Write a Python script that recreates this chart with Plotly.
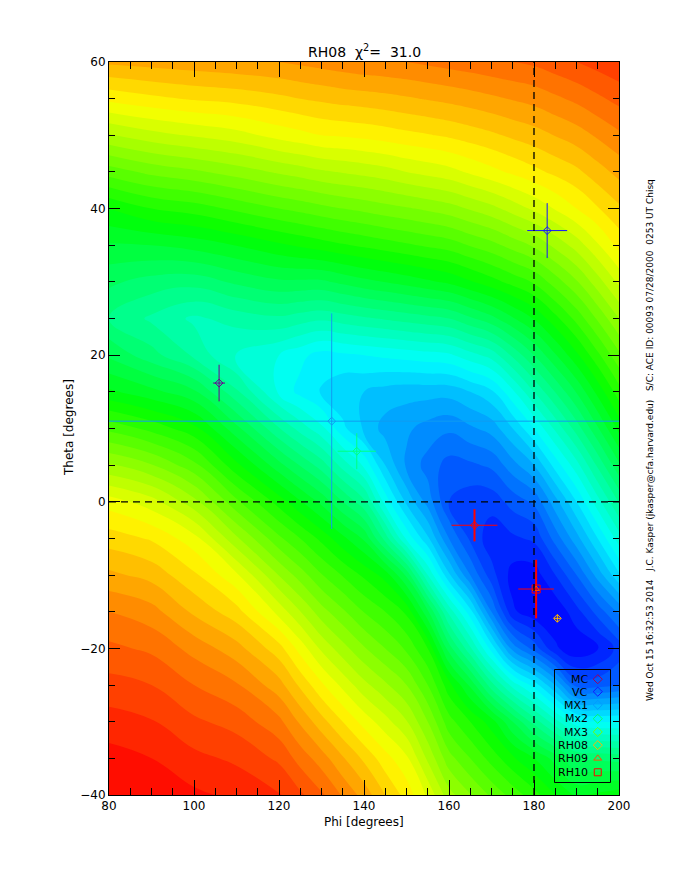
import plotly.graph_objects as go

phi_grid = [80, 90, 100, 110, 120, 125, 130, 135, 140, 145, 150, 155, 160, 165, 170, 175, 180, 185, 190, 195, 200]
theta_grid = [60, 55, 50, 45, 40, 35, 30, 25, 20, 15, 10, 5, 0, -5, -10, -15, -20, -25, -30, -35, -40]

# Colour-scale position read at each grid node (0 blue, .25 cyan, .5 green, .75 yellow, 1 red)
col_080 = [.83, .757, .672, .586, .50, .447, .405, .375, .42, .48, .568, .653, .738, .788, .831, .875, .906, .934, .961, .985, 1.0]
col_090 = [.835, .769, .69, .607, .525, .45, .39, .345, .385, .458, .542, .627, .711, .772, .816, .86, .895, .925, .952, .975, .993]
col_100 = [.84, .778, .703, .62, .537, .46, .385, .32, .345, .43, .508, .583, .659, .735, .78, .82, .866, .90, .93, .957, .98]
col_110 = [.845, .784, .715, .636, .556, .476, .405, .335, .295, .355, .433, .507, .581, .655, .73, .785, .835, .878, .915, .945, .97]
col_120 = [.85, .794, .734, .654, .575, .495, .42, .345, .275, .27, .352, .434, .514, .581, .649, .716, .785, .835, .882, .92, .953]
col_125 = [.855, .80, .742, .662, .583, .504, .42, .337, .257, .242, .315, .398, .478, .55, .613, .676, .74, .795, .846, .89, .93]
col_130 = [.86, .805, .75, .671, .592, .513, .42, .33, .24, .222, .282, .363, .443, .518, .577, .636, .695, .755, .81, .862, .905]
col_135 = [.865, .81, .753, .677, .60, .522, .431, .338, .245, .205, .232, .315, .40, .482, .548, .605, .66, .718, .775, .828, .872]
col_140 = [.87, .813, .757, .683, .607, .53, .442, .346, .25, .20, .195, .27, .357, .446, .52, .574, .628, .683, .74, .795, .84]
col_145 = [.872, .817, .762, .69, .615, .538, .451, .353, .255, .19, .165, .20, .265, .365, .49, .55, .60, .655, .71, .76, .80]
col_150 = [.875, .822, .768, .70, .622, .546, .46, .36, .26, .185, .155, .145, .195, .27, .42, .52, .57, .625, .677, .73, .765]
col_155 = [.88, .827, .773, .708, .63, .554, .47, .367, .265, .185, .14, .115, .14, .205, .30, .43, .525, .575, .625, .67, .72]
col_160 = [.885, .832, .779, .716, .639, .562, .48, .375, .27, .185, .13, .09, .075, .125, .205, .317, .413, .51, .56, .61, .66]
col_165 = [.89, .838, .787, .729, .653, .577, .497, .396, .29, .20, .145, .095, .06, .07, .125, .235, .33, .445, .525, .575, .627]
col_170 = [.895, .845, .795, .742, .667, .591, .515, .417, .31, .22, .16, .105, .06, .035, .06, .125, .24, .36, .487, .54, .595]
col_175 = [.90, .852, .805, .755, .686, .61, .534, .447, .355, .27, .20, .14, .085, .045, .015, .03, .14, .29, .425, .505, .565]
col_180 = [.905, .859, .814, .768, .705, .629, .553, .477, .40, .325, .25, .175, .105, .055, .012, .008, .09, .24, .365, .475, .535]
col_185 = [.915, .87, .826, .781, .727, .657, .587, .517, .447, .376, .305, .235, .165, .11, .05, .005, .03, .175, .31, .44, .50]
col_190 = [.925, .881, .838, .794, .75, .686, .622, .558, .494, .427, .361, .29, .225, .165, .10, .04, .005, .09, .26, .40, .47]
col_195 = [.935, .895, .854, .814, .773, .722, .664, .604, .544, .483, .422, .355, .29, .225, .16, .085, .02, .09, .25, .395, .48]
col_200 = [.945, .908, .87, .833, .795, .758, .706, .65, .594, .539, .483, .42, .352, .288, .22, .13, .06, .10, .25, .39, .49]
columns = [col_080, col_090, col_100, col_110, col_120, col_125, col_130, col_135, col_140, col_145, col_150,
           col_155, col_160, col_165, col_170, col_175, col_180, col_185, col_190, col_195, col_200]
z_rows = [list(r) for r in zip(*columns)]

# Fit points: phi, theta, half-widths
mc = dict(phi=105.9, theta=16.2, ephi=1.4, etheta=2.5)
vc = dict(phi=183.1, theta=37.0, ephi=4.7, etheta=3.75)
mx1 = dict(phi=132.4, theta=11.0, ephi=200.0, etheta=14.7)
mx2 = dict(phi=138.3, theta=6.9, ephi=4.5, etheta=2.45)
rh08 = dict(phi=185.5, theta=-15.9, ephi=0.8, etheta=0.5)
rh09 = dict(phi=166.0, theta=-3.2, ephi=5.4, etheta=2.2)
rh10 = dict(phi=180.5, theta=-11.9, ephi=4.2, etheta=4.0)

legend_names = ["MC", "VC", "MX1", "Mx2", "MX3", "RH08", "RH09", "RH10"]
legend_colors = ["#a0005a", "#1414ff", "#009cff", "#00ff6a", "#70ff00", "#ffb400", "#ff5000", "#ff0000"]
legend_symbols = ["diamond-open"] * 6 + ["triangle-up-open", "square-open"]
legend_phi = [195.0] * 8
legend_theta = [-24.2, -25.9, -27.7, -29.6, -31.4, -33.2, -35.0, -36.9]

title_html = "RH08  χ<sup>2</sup>=  31.0"
side_text = ("Wed Oct 15 16:32:53 2014   J.C. Kasper (jkasper@cfa.harvard.edu)   "
             "S/C: ACE ID: 00093 07/28/2000  0253 UT Chisq")

FONT = "DejaVu Sans"
L, R, T, B = 109, 619, 62, 795
def px(x): return (x - L) / (R - L)
def py(y): return (B - y) / (B - T)

fig = go.Figure()
fig.add_trace(go.Contour(
    x=phi_grid, y=theta_grid, z=z_rows, zmin=0, zmax=1, autocontour=False,
    contours=dict(start=0, end=1, size=0.025, coloring="fill"),
    line=dict(width=0, smoothing=1.3), showscale=False, hoverinfo="skip",
    colorscale=[[0, "#0000ff"], [.25, "#00ffff"], [.5, "#00ff00"], [.75, "#ffff00"], [1, "#ff0000"]],
))

def point(p, color, symbol="diamond-open", size=6, vw=1, hw=1):
    fig.add_trace(go.Scatter(
        x=[p["phi"]], y=[p["theta"]], mode="markers", showlegend=False,
        marker=dict(symbol=symbol, size=size, color=color, line=dict(width=1, color=color)),
        error_x=dict(type="data", array=[p["ephi"]], color=color, thickness=hw, width=0),
        error_y=dict(type="data", array=[p["etheta"]], color=color, thickness=vw, width=0),
    ))

point(mc, "#6a0090")
point(vc, "#1414ff")
point(mx1, "#109cf0")
point(mx2, "#00ff80")
point(rh08, "#ffb400")
point(rh09, "#ff0000", vw=2)
point(rh10, "#ff0000", symbol="square-open", size=8, vw=2)
fig.add_trace(go.Scatter(x=[rh10["phi"]], y=[rh10["theta"]], mode="markers", showlegend=False,
                         marker=dict(symbol="triangle-up-open", size=6, color="#ff5000", line=dict(width=1, color="#ff5000"))))

dash = "7px,5px"
shapes = [
    dict(type="line", xref="x", yref="paper", x0=180, x1=180, y0=0, y1=1, line=dict(color="black", width=1.3, dash=dash)),
    dict(type="line", xref="paper", yref="y", x0=0, x1=1, y0=0, y1=0, line=dict(color="black", width=1.3, dash=dash)),
    dict(type="rect", xref="paper", yref="paper", x0=px(554.5), x1=px(610.5), y0=py(782.5), y1=py(669.5),
         line=dict(color="black", width=1)),
]

ann = [
    dict(text=title_html, x=px(364), y=py(51), xref="paper", yref="paper", showarrow=False,
         font=dict(family=FONT, size=14, color="black"), xanchor="center", yanchor="middle"),
    dict(text="Phi [degrees]", x=px(364), y=py(822), xref="paper", yref="paper", showarrow=False,
         font=dict(family=FONT, size=12, color="black"), xanchor="center", yanchor="middle"),
    dict(text="Theta [degrees]", x=px(69), y=py(428), xref="paper", yref="paper", showarrow=False, textangle=-90,
         font=dict(family=FONT, size=12, color="black"), xanchor="center", yanchor="middle"),
    dict(text=side_text.replace(" ", "\u00a0"), x=px(650), y=py(440), xref="paper", yref="paper", showarrow=False, textangle=-90,
         font=dict(family=FONT, size=9, color="black"), xanchor="center", yanchor="middle"),
]
rows_y = [679, 692, 705, 718.7, 732, 745.3, 758.7, 772]
for name, ry in zip(legend_names, rows_y):
    ann.append(dict(text=name, x=px(590), y=py(ry), xref="paper", yref="paper", showarrow=False,
                    font=dict(family=FONT, size=11, color="black"), xanchor="right", yanchor="middle"))

fig.add_trace(go.Scatter(
    x=legend_phi, y=legend_theta, mode="markers", showlegend=False,
    marker=dict(symbol=legend_symbols, size=7, color=legend_colors, line=dict(width=1, color=legend_colors)),
))

axis_common = dict(showgrid=False, zeroline=False, showline=True, linecolor="black", linewidth=1, mirror="ticks",
                   ticks="inside", tickcolor="black", tickwidth=1, layer="above traces",
                   tickfont=dict(family=FONT, size=12, color="black"))
fig.update_layout(
    width=680, height=880, autosize=False, paper_bgcolor="white", plot_bgcolor="white", showlegend=False,
    margin=dict(l=L, r=680 - R, t=T, b=880 - B, pad=0),
    xaxis=dict(range=[80, 200], tick0=80, dtick=20, ticklen=15,
               minor=dict(dtick=5, tick0=80, ticks="inside", ticklen=7, tickcolor="black", tickwidth=1, showgrid=False), **axis_common),
    yaxis=dict(range=[-40, 60], tick0=-40, dtick=20, ticklen=11,
               minor=dict(dtick=5, tick0=-40, ticks="inside", ticklen=6, tickcolor="black", tickwidth=1, showgrid=False), **axis_common),
    shapes=shapes, annotations=ann,
)
fig.write_html("out.html", config=dict(displayModeBar=False),
               post_script="document.body.style.margin='0';document.body.style.overflow='hidden';")
